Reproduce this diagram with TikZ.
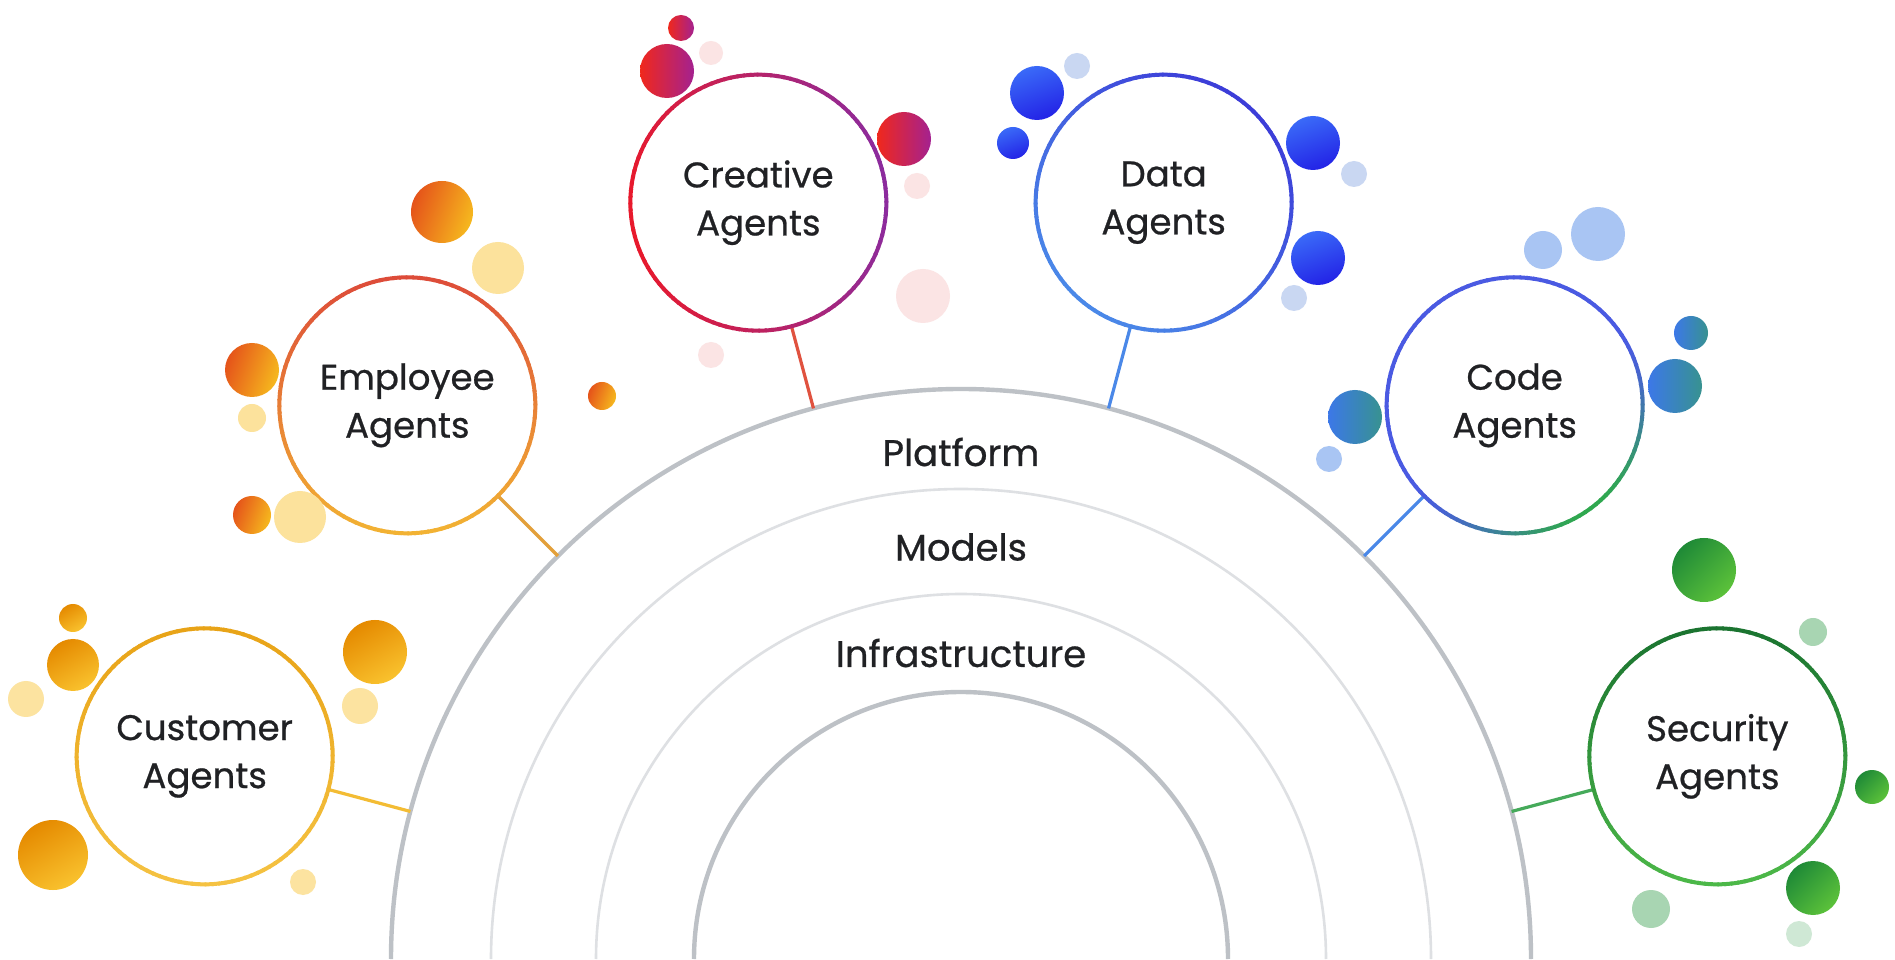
\documentclass[tikz,border=0pt]{standalone}
\usepackage{fontspec}
\setmainfont{Poppins}
\newfontfamily\labfont{Poppins}[FakeBold=0.7]
\usetikzlibrary{calc}
\definecolor{txt}{HTML}{202124}
\definecolor{arcdark}{HTML}{BDC1C6}
\definecolor{arclight}{HTML}{DEE0E3}
\definecolor{custA}{HTML}{E8A317}\definecolor{custB}{HTML}{F5C242}\definecolor{custLine}{HTML}{F3BC34}
\definecolor{custD1}{HTML}{E58A00}\definecolor{custD2}{HTML}{F9C22E}\definecolor{custPale}{HTML}{FCE3A0}
\definecolor{empA}{HTML}{DD4B39}\definecolor{empB}{HTML}{F2B233}\definecolor{empLine}{HTML}{E3A03A}
\definecolor{empD1}{HTML}{E5531A}\definecolor{empD2}{HTML}{F6B91E}\definecolor{empPale}{HTML}{FCE29C}
\definecolor{creA}{HTML}{E8192C}\definecolor{creB}{HTML}{8B2B9E}\definecolor{creLine}{HTML}{E0523F}
\definecolor{creD1}{HTML}{F0281C}\definecolor{creD2}{HTML}{A42190}\definecolor{crePale}{HTML}{FBE4E4}
\definecolor{datA}{HTML}{3C3CD8}\definecolor{datB}{HTML}{4A88E8}\definecolor{datLine}{HTML}{4A88E8}
\definecolor{datD1}{HTML}{3A6AF8}\definecolor{datD2}{HTML}{2323E6}\definecolor{datPale}{HTML}{C9D7F2}
\definecolor{codA}{HTML}{4A5AE2}\definecolor{codB}{HTML}{2FA84F}\definecolor{codLine}{HTML}{4A88E8}
\definecolor{codD1}{HTML}{3C78E8}\definecolor{codD2}{HTML}{35A060}\definecolor{codPale}{HTML}{A9C5F3}
\definecolor{secA}{HTML}{1A7330}\definecolor{secB}{HTML}{4CB848}\definecolor{secLine}{HTML}{45AA5A}
\definecolor{secD1}{HTML}{1F8A37}\definecolor{secD2}{HTML}{5CC23A}\definecolor{secPale}{HTML}{A8D5B2}\definecolor{secPaleB}{HTML}{CFE8D5}
\tikzset{
  conn/.style={line width=1.6pt},
  agent/.style={circle, minimum size=128pt, inner sep=0pt, align=center,
    font=\labfont\fontsize{17.8}{24}\selectfont, text=txt},
  layer/.style={font=\labfont\fontsize{18.5}{20}\selectfont, text=txt},
  archdark/.style={draw=arcdark, line width=2.2pt},
  archlight/.style={draw=arclight, line width=1.3pt},
  crebub/.style={left color=creD1, middle color=creD1!85!creD2, right color=creD2},
  codbub/.style={left color=codD1, middle color=codD1, right color=codD1!35!codD2},
}
\newcommand{\gring}[4]{%
  \foreach \a in {0,3,...,357}{%
    \pgfmathtruncatemacro\p{#4}%
    \draw[line width=2pt,color=#2!\p!#3] (#1.center) ++(\a:128) arc[start angle=\a,end angle=\a+3.8,radius=128];
  }}
\newcommand{\bub}[6]{\shade[top color=#4,bottom color=#5,shading angle=#6] (#1,#2) circle[radius=#3];}
\newcommand{\pale}[4]{\fill[#4] (#1,#2) circle[radius=#3];}
\begin{document}
\begin{tikzpicture}[x=0.5pt,y=0.5pt]
\useasboundingbox (0,0) rectangle (1895,959);
\fill[white] (0,0) rectangle (1895,959);
\coordinate (O) at (961,0);
% arches
\draw[archdark] (O) ++(0:570) arc[start angle=0,end angle=180,radius=570];
\draw[archlight] (O) ++(0:470) arc[start angle=0,end angle=180,radius=470];
\draw[archlight] (O) ++(0:365) arc[start angle=0,end angle=180,radius=365];
\draw[archdark] (O) ++(0:267) arc[start angle=0,end angle=180,radius=267];
\node[layer] (platform) at (961,507) {Platform};
\node[layer] (models) at (961,412) {Models};
\node[layer] (infra) at (961,306) {Infrastructure};
% agent nodes
\node[agent] (cust) at ($(O)+(165:783)$) {Customer\\Agents};
\node[agent] (emp) at ($(O)+(135:783)$) {Employee\\Agents};
\node[agent] (cre) at ($(O)+(105:783)$) {Creative\\Agents};
\node[agent] (dat) at ($(O)+(75:783)$) {Data\\Agents};
\node[agent] (cod) at ($(O)+(45:783)$) {Code\\Agents};
\node[agent] (sec) at ($(O)+(15:783)$) {Security\\Agents};
\foreach \n/\ang in {cust/165,emp/135,cre/105,dat/75,cod/45,sec/15}{
  \coordinate (\n-a) at ($(O)+(\ang:570)$);
}
\draw[conn,custLine] (cust) -- (cust-a);
\draw[conn,empLine] (emp) -- (emp-a);
\draw[conn,creLine] (cre) -- (cre-a);
\draw[conn,datLine] (dat) -- (dat-a);
\draw[conn,codLine] (cod) -- (cod-a);
\draw[conn,secLine] (sec) -- (sec-a);
% gradient rings
\gring{cust}{custA}{custB}{50+50*cos(\a-90)}
\gring{emp}{empA}{empB}{50+50*cos(\a-90)}
\gring{cre}{creB}{creA}{50+50*cos(\a-5)}
\gring{dat}{datA}{datB}{50+50*cos(\a-50)}
\gring{cod}{codA}{codB}{100-100*max(0,cos(\a+55))^2}
\gring{sec}{secA}{secB}{50+50*cos(\a-90)}
% customer bubbles
\bub{73}{341}{14}{custD1}{custD2}{30}
\bub{73}{294}{26}{custD1}{custD2}{30}
\pale{26}{260}{18}{custPale}
\bub{53}{104}{35}{custD1}{custD2}{30}
\bub{375}{307}{32}{custD1}{custD2}{30}
\pale{360}{253}{18}{custPale}
\pale{303}{77}{13}{custPale}
% employee bubbles
\bub{442}{747}{31}{empD1}{empD2}{70}
\pale{498}{691}{26}{empPale}
\bub{252}{589}{27}{empD1}{empD2}{70}
\pale{252}{541}{14}{empPale}
\bub{602}{563}{14}{empD1}{empD2}{70}
\bub{252}{444}{19}{empD1}{empD2}{70}
\pale{300}{442}{26}{empPale}
% creative bubbles
\shade[crebub] (681,931) circle[radius=13];
\pale{711}{906}{12}{crePale}
\shade[crebub] (667,888) circle[radius=27];
\shade[crebub] (904,820) circle[radius=27];
\pale{917}{773}{13}{crePale}
\pale{923}{663}{27}{crePale}
\pale{711}{604}{13}{crePale}
% data bubbles
\bub{1037}{866}{27}{datD1}{datD2}{20}
\pale{1077}{893}{13}{datPale}
\bub{1013}{816}{16}{datD1}{datD2}{20}
\bub{1313}{816}{27}{datD1}{datD2}{20}
\pale{1354}{785}{13}{datPale}
\bub{1318}{701}{27}{datD1}{datD2}{20}
\pale{1294}{661}{13}{datPale}
% code bubbles
\pale{1598}{725}{27}{codPale}
\pale{1543}{709}{19}{codPale}
\shade[codbub] (1691,626) circle[radius=17];
\shade[codbub] (1675,573) circle[radius=27];
\shade[codbub] (1355,542) circle[radius=27];
\pale{1329}{500}{13}{codPale}
% security bubbles
\bub{1704}{389}{32}{secD1}{secD2}{45}
\pale{1813}{327}{14}{secPale}
\bub{1872}{172}{17}{secD1}{secD2}{45}
\bub{1813}{71}{27}{secD1}{secD2}{45}
\pale{1651}{50}{19}{secPale}
\pale{1799}{25}{13}{secPaleB}
\end{tikzpicture}
\end{document}
